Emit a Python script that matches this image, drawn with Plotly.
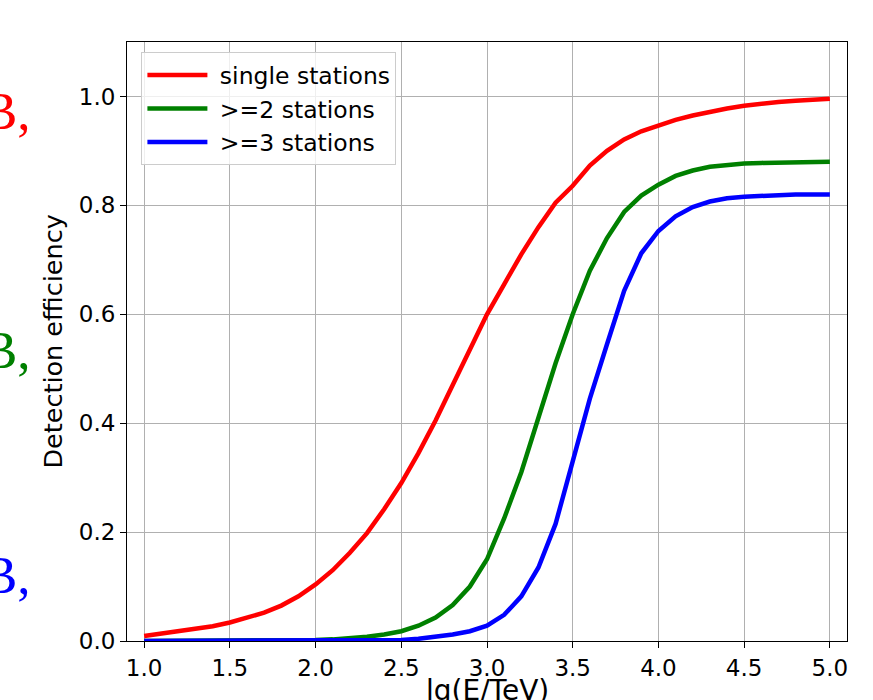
import plotly.graph_objects as go

# lg(E/TeV) sampled in steps of 0.1
lg_energy = [round(1.0 + 0.1 * i, 1) for i in range(41)]

single_stations = [
    0.009, 0.013, 0.017, 0.021, 0.027, 0.034, 0.042, 0.052, 0.065, 0.082,
    0.104, 0.130, 0.162, 0.198, 0.242, 0.290, 0.345, 0.405, 0.470, 0.535,
    0.600, 0.655, 0.710, 0.760, 0.805, 0.836, 0.873, 0.900, 0.921, 0.936,
    0.947, 0.957, 0.965, 0.972, 0.978, 0.983, 0.987, 0.990, 0.992, 0.994,
    0.996,
]
two_stations = [
    0.000, 0.000, 0.000, 0.000, 0.000, 0.000, 0.001, 0.001, 0.001, 0.002,
    0.002, 0.003, 0.005, 0.008, 0.012, 0.018, 0.028, 0.043, 0.066, 0.100,
    0.150, 0.225, 0.310, 0.410, 0.510, 0.600, 0.680, 0.740, 0.788, 0.818,
    0.838, 0.854, 0.864, 0.871, 0.875, 0.877, 0.878, 0.879, 0.879, 0.880,
    0.880,
]
three_stations = [
    0.000, 0.000, 0.000, 0.000, 0.000, 0.000, 0.000, 0.000, 0.000, 0.000,
    0.000, 0.000, 0.001, 0.001, 0.001, 0.002, 0.004, 0.007, 0.012, 0.018,
    0.028, 0.048, 0.082, 0.135, 0.215, 0.330, 0.445, 0.545, 0.643, 0.712,
    0.753, 0.780, 0.797, 0.807, 0.813, 0.816, 0.818, 0.819, 0.820, 0.820,
    0.820,
]

series_names = ["single stations", ">=2 stations", ">=3 stations"]
series_colors = ["#ff0000", "#008000", "#0000ff"]
x_ticks = [1.0, 1.5, 2.0, 2.5, 3.0, 3.5, 4.0, 4.5, 5.0]
y_ticks = [0.0, 0.2, 0.4, 0.6, 0.8, 1.0]
side_labels = ["В,", "В,", "В,"]

FONT = "DejaVu Sans"

fig = go.Figure()
for name, values, color in zip(series_names,
                               [single_stations, two_stations, three_stations],
                               series_colors):
    fig.add_trace(go.Scatter(
        x=lg_energy, y=values, mode="lines", name="\u00a0" + name,
        line=dict(color=color, width=4.5),
    ))

axis_common = dict(
    showgrid=True, gridcolor="#b0b0b0", gridwidth=1,
    showline=True, linecolor="black", linewidth=1, mirror=True,
    ticks="outside", ticklen=6, tickwidth=1, tickcolor="black",
    tickfont=dict(family=FONT, size=23, color="black"),
    zeroline=False,
)

fig.update_xaxes(range=[0.9, 5.1], tickvals=x_ticks,
                 ticktext=[f"{v:.1f}" for v in x_ticks], **axis_common)
fig.update_yaxes(range=[0.0, 1.1], tickvals=y_ticks,
                 ticktext=[f"{v:.1f}" for v in y_ticks], **axis_common)

annotations = [
    dict(text="lg(E/TeV)", xref="paper", yref="paper", x=0.5, y=-0.052,
         xanchor="center", yanchor="top", showarrow=False,
         font=dict(family=FONT, size=28, color="black")),
    dict(text="Detection efficiency", xref="paper", yref="paper",
         x=-0.104, y=0.5, xanchor="center", yanchor="middle", textangle=-90,
         showarrow=False, font=dict(family=FONT, size=25.5, color="black")),
]
# coloured fragments along the left edge
for label, color, ypos in zip(side_labels, series_colors, [0.885, 0.485, 0.11]):
    annotations.append(dict(
        text=label, xref="paper", yref="paper", x=-0.131, y=ypos,
        xanchor="right", yanchor="middle", showarrow=False,
        font=dict(family="Liberation Serif", size=53, color=color)))

fig.update_layout(
    width=873, height=700,
    margin=dict(l=127, r=26, t=42, b=59, autoexpand=False),
    paper_bgcolor="white", plot_bgcolor="white",
    showlegend=True,
    legend=dict(
        x=0.02, y=0.983, xanchor="left", yanchor="top",
        bgcolor="rgba(255,255,255,0.8)", bordercolor="#cccccc", borderwidth=1,
        font=dict(family=FONT, size=23.5, color="black"),
        itemwidth=60, tracegroupgap=0,
    ),
    annotations=annotations,
)

fig.write_html("out.html")
